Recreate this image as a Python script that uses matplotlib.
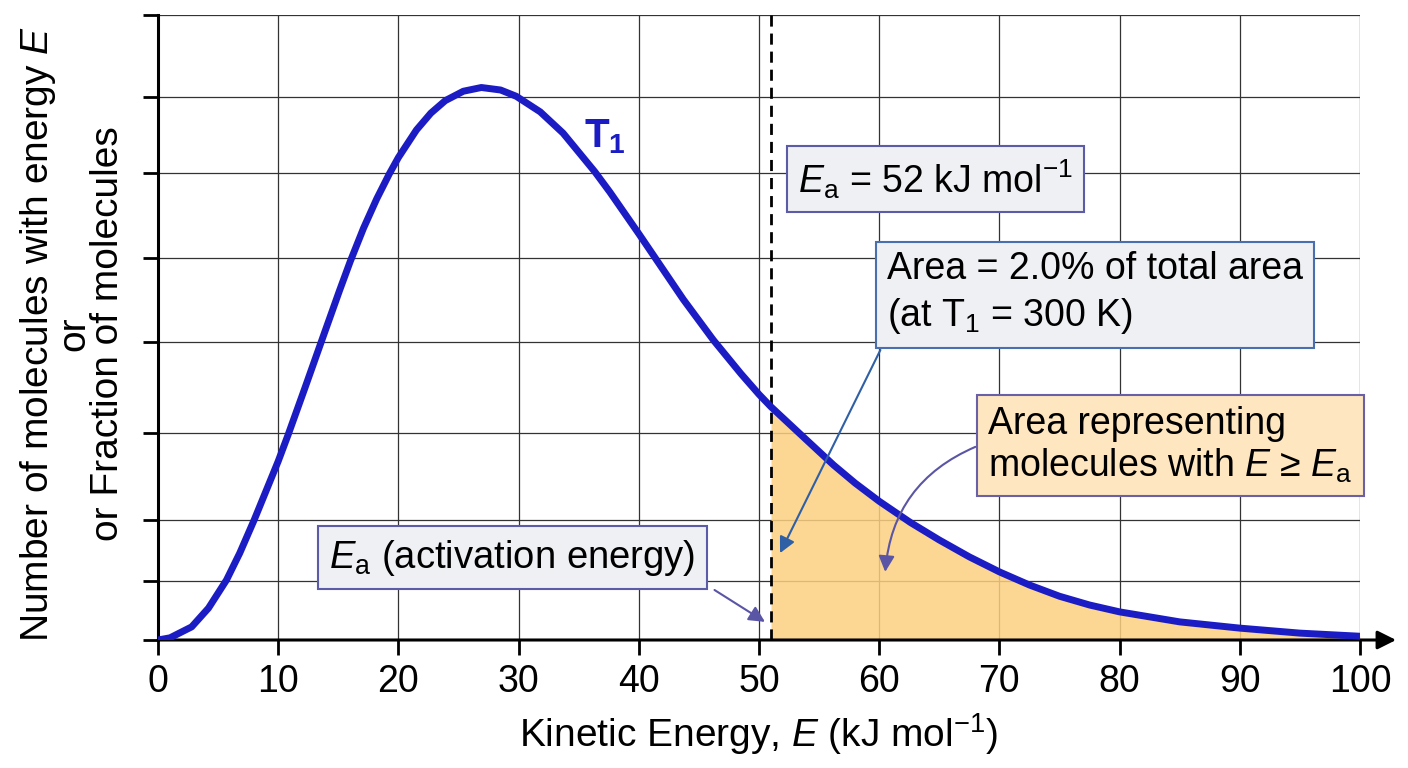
import matplotlib
matplotlib.use("Agg")
import matplotlib.pyplot as plt
import numpy as np

plt.rcParams['font.family'] = ['Liberation Sans', 'DejaVu Sans']
plt.rcParams['mathtext.fontset'] = 'custom'
plt.rcParams['mathtext.rm'] = 'Liberation Sans'
plt.rcParams['mathtext.it'] = 'Liberation Sans:italic'
plt.rcParams['mathtext.bf'] = 'Liberation Sans:bold'

# curve values (arbitrary units, 0..100 = axis height)
energy = [0, 1, 2.8, 4.2, 5.7, 6.8, 8.0, 10.0, 10.8, 12.2, 13.6, 15.1, 16.0, 17.1,
          18.2, 19.25, 20.0, 21.5, 22.7, 23.9, 25.4, 26.9, 28.5, 29.8, 31.8, 33.7,
          36.35, 37.6, 40.0, 41.2, 43.7, 46.2, 48.5, 50.0, 51.0, 53.4, 56.2, 58.0,
          60.0, 62.6, 65.0, 67.5, 70.0, 72.5, 75.0, 77.5, 80.0, 85.0, 90.0,
          95.0, 100.0]
fraction = [0, 0.35, 2.1, 5.1, 9.6, 13.9, 19.2, 28.6, 32.7, 40.2, 47.8, 55.9, 60.6, 65.9,
            70.6, 74.6, 77.2, 81.6, 84.3, 86.3, 87.8, 88.4, 88.0, 87.0, 84.5, 81.1,
            74.9, 71.65, 65.0, 61.6, 54.5, 48.0, 42.6, 39.3, 37.3, 33.0, 28.0, 25.1,
            22.2, 18.8, 16.0, 13.3, 10.9, 8.8, 7.0, 5.6, 4.5, 2.9, 1.9,
            1.1, 0.6]
x_ticks = [0, 10, 20, 30, 40, 50, 60, 70, 80, 90, 100]
y_grid = [0, 9.4, 19.2, 33.1, 47.7, 61.1, 74.7, 86.9, 100]
ea_line = 51.0

energy = np.array(energy)
fraction = np.array(fraction)

fig = plt.figure(figsize=(14.08, 7.68), dpi=100)
ax = fig.add_axes([158 / 1408, 128 / 768, 1202 / 1408, 625 / 768])
ax.set_xlim(0, 100)
ax.set_ylim(0, 100)

ax.set_xticks(x_ticks)
ax.set_yticks(y_grid)
ax.set_yticklabels([])
ax.grid(True, color='#333333', lw=0.9, zorder=0)
ax.set_axisbelow(True)
ax.tick_params(axis='both', direction='out', length=11, width=2, labelsize=27, pad=6)

for s in ['top', 'right', 'bottom']:
    ax.spines[s].set_visible(False)
ax.spines['left'].set_linewidth(2.2)

# x axis with arrow
ax.annotate('', xy=(103, 0), xytext=(0, 0),
            arrowprops=dict(arrowstyle='-|>', lw=2.2, color='k', mutation_scale=28,
                            shrinkA=0, shrinkB=0),
            annotation_clip=False)

# shaded area E >= Ea
mask = energy >= ea_line
ax.fill_between(energy[mask], fraction[mask], 0, color='#fccf80', alpha=0.85, lw=0, zorder=2)
ax.axvline(ea_line, color='k', lw=2, ls=(0, (4, 2.5)), zorder=4)

ax.plot(energy, fraction, color='#1c1cc4', lw=5, solid_capstyle='round',
        solid_joinstyle='round', zorder=5)

ax.text(37.2, 80.5, r'$\mathbf{T}_\mathbf{1}$', color='#1c1cc4', fontsize=29,
        ha='center', va='center', zorder=6)

# text boxes
ax.text(64.7, 73.8, r'$E_{\mathrm{a}}$ = 52 kJ mol$^{-1}$', fontsize=27,
        ha='center', va='center', zorder=7,
        bbox=dict(boxstyle='square,pad=0.3', fc='#eef0f3', ec='#5b5ba8', lw=1.5))
ax.text(60.65, 55.4, 'Area = 2.0% of total area\n(at T$_1$ = 300 K)', fontsize=27,
        ha='left', va='center', linespacing=1.3, zorder=7,
        bbox=dict(boxstyle='square,pad=0.3', fc='#eef0f3', ec='#4a6fb0', lw=1.5))
ax.text(69.05, 31.1, 'Area representing\nmolecules with $E$ \u2265 $E_{\\mathrm{a}}$', fontsize=27,
        ha='left', va='center', linespacing=1.15, zorder=7,
        bbox=dict(boxstyle='square,pad=0.3', fc='#fde6c0', ec='#6a60a8', lw=1.5))
ax.text(29.5, 13.2, r'$E_{\mathrm{a}}$ (activation energy)', fontsize=27.5,
        ha='center', va='center', zorder=7,
        bbox=dict(boxstyle='square,pad=0.3', fc='#eef0f3', ec='#5b5ba8', lw=1.5))

# arrows
ax.annotate('', xy=(51.75, 13.9), xytext=(60.1, 46.4),
            arrowprops=dict(arrowstyle='-|>', lw=1.5, color='#2f5fa5', mutation_scale=24,
                            shrinkA=0, shrinkB=0), zorder=6)
ax.annotate('', xy=(60.5, 10.9), xytext=(68.0, 30.9),
            arrowprops=dict(arrowstyle='-|>', lw=1.5, color='#5a55a5', mutation_scale=24,
                            shrinkA=0, shrinkB=0, connectionstyle='arc3,rad=0.3'), zorder=6)
ax.annotate('', xy=(50.5, 2.9), xytext=(46.3, 8.0),
            arrowprops=dict(arrowstyle='-|>', lw=1.5, color='#5a55a5', mutation_scale=24,
                            shrinkA=0, shrinkB=0), zorder=6)

ax.set_xlabel(r'Kinetic Energy, $E$ (kJ mol$^{-1}$)', fontsize=28, labelpad=8)
ax.set_ylabel('Number of molecules with energy $E$\nor\nor Fraction of molecules',
              fontsize=28, linespacing=0.92, va='center')
ax.yaxis.set_label_coords(-0.0715, 0.49)

fig.savefig('out.png', dpi=100)
